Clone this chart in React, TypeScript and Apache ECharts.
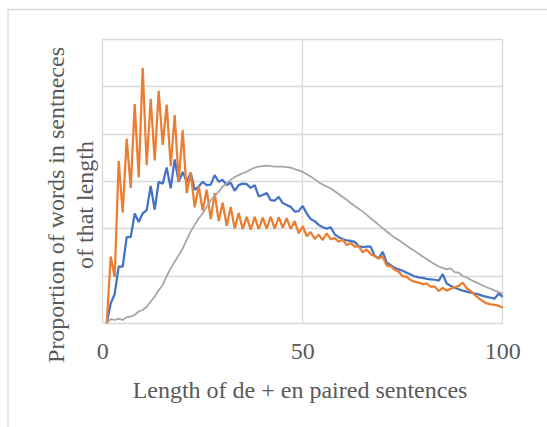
import React, { useEffect, useRef } from "react";
import * as echarts from "echarts";

// Sentence lengths (x positions)
const lengths: number[] = Array.from({ length: 100 }, (_, i) => i + 1);

// Values in grid-interval units (6 horizontal bands)
const blueValues: number[] = [
  0, 0.42, 0.62, 1.2, 1.2, 1.82, 1.82, 2.32, 2.14, 2.32,
  2.39, 2.9, 2.4, 2.99, 2.95, 3.29, 2.85, 3.46, 2.99, 3.2,
  2.99, 3.18, 2.82, 2.89, 2.99, 2.92, 2.93, 3.13, 2.99, 3.03,
  2.92, 2.97, 2.8, 2.92, 2.95, 2.94, 2.86, 2.92, 2.68, 2.71,
  2.75, 2.6, 2.59, 2.67, 2.54, 2.5, 2.46, 2.36, 2.37, 2.48,
  2.32, 2.2, 2.16, 2.08, 2.03, 2.0, 2.03, 1.88, 1.82, 1.78,
  1.75, 1.74, 1.72, 1.63, 1.61, 1.62, 1.62, 1.42, 1.37, 1.51,
  1.28, 1.23, 1.17, 1.14, 1.11, 1.07, 1.03, 0.99, 0.97, 0.96,
  0.94, 0.93, 0.92, 0.9, 1.04, 0.84, 0.79, 0.75, 0.72, 0.69,
  0.67, 0.65, 0.63, 0.61, 0.58, 0.56, 0.54, 0.52, 0.63, 0.56,
];

const orangeValues: number[] = [
  0, 1.41, 0.98, 3.43, 2.34, 3.9, 2.86, 4.63, 3.08, 5.4,
  3.34, 4.74, 3.44, 4.91, 3.77, 4.62, 3.32, 4.4, 3.0, 4.08,
  2.75, 3.18, 2.45, 2.9, 2.38, 2.82, 2.2, 2.75, 2.16, 2.55,
  2.06, 2.46, 2.0, 2.33, 1.99, 2.25, 1.98, 2.25, 1.99, 2.23,
  2.0, 2.25, 2.0, 2.24, 2.02, 2.22, 1.99, 2.16, 1.9, 2.05,
  1.84, 1.93, 1.78, 1.87, 1.76, 1.9, 1.78, 1.8, 1.72, 1.77,
  1.65, 1.7, 1.62, 1.63, 1.5, 1.56, 1.46, 1.42, 1.37, 1.41,
  1.22, 1.21, 1.13, 1.09, 0.99, 0.98, 0.91, 0.88, 0.86, 0.83,
  0.84, 0.77, 0.78, 0.68, 0.75, 0.69, 0.73, 0.76, 0.79, 0.86,
  0.74, 0.68, 0.6, 0.53, 0.47, 0.42, 0.4, 0.39, 0.37, 0.33,
];

const grayValues: number[] = [
  0, 0.09, 0.07, 0.1, 0.07, 0.13, 0.14, 0.18, 0.25, 0.28,
  0.35, 0.46, 0.56, 0.7, 0.81, 1.0, 1.16, 1.3, 1.44, 1.58,
  1.76, 1.94, 2.08, 2.22, 2.32, 2.46, 2.6, 2.69, 2.78, 2.89,
  2.96, 3.03, 3.09, 3.13, 3.17, 3.2, 3.25, 3.29, 3.31, 3.32,
  3.33, 3.32, 3.31, 3.31, 3.31, 3.3, 3.29, 3.26, 3.23, 3.2,
  3.15, 3.1, 3.04, 2.98, 2.93, 2.89, 2.85, 2.79, 2.73, 2.67,
  2.61, 2.54, 2.48, 2.42, 2.36, 2.29, 2.22, 2.15, 2.08, 2.01,
  1.94, 1.87, 1.81, 1.76, 1.7, 1.64, 1.58, 1.53, 1.47, 1.41,
  1.36, 1.3, 1.25, 1.2, 1.17, 1.14, 1.16, 1.08, 1.07, 1.0,
  0.97, 0.92, 0.88, 0.84, 0.8, 0.76, 0.73, 0.69, 0.66, 0.63,
];

const xTitle = "Length of de + en paired sentences";
const yTitleLine1 = "Proportion of words in sentneces";
const yTitleLine2 = "of that length";

const FONT = "Liberation Serif";
const TEXT_COLOR = "#595959";
const GRID_COLOR = "#D9D9D9";

export default function App() {
  const ref = useRef<HTMLDivElement>(null);

  useEffect(() => {
    if (!ref.current) return;
    const chart = echarts.init(ref.current, null, { renderer: "svg" });
    const pair = (vals: number[]) => lengths.map((x, i) => [x, vals[i]]);
    chart.setOption({
      animation: false,
      backgroundColor: "#ffffff",
      grid: { left: 102.7, top: 39.3, width: 400, height: 284, containLabel: false },
      xAxis: {
        type: "value",
        min: 0,
        max: 100,
        interval: 50,
        axisLine: { show: false },
        axisTick: { show: false },
        splitLine: { show: true, lineStyle: { color: GRID_COLOR, width: 1.3 } },
        axisLabel: {
          margin: 16,
          fontFamily: FONT,
          fontSize: 24,
          color: TEXT_COLOR,
        },
      },
      yAxis: {
        type: "value",
        min: 0,
        max: 6,
        interval: 1,
        axisLine: { show: false },
        axisTick: { show: false },
        axisLabel: { show: false },
        splitLine: { show: true, lineStyle: { color: GRID_COLOR, width: 1.3 } },
      },
      series: [
        {
          name: "de+en",
          type: "line",
          data: pair(blueValues),
          showSymbol: false,
          lineStyle: { color: "#4472C4", width: 2.25 },
          itemStyle: { color: "#4472C4" },
        },
        {
          name: "de",
          type: "line",
          data: pair(orangeValues),
          showSymbol: false,
          lineStyle: { color: "#ED7D31", width: 2.25 },
          itemStyle: { color: "#ED7D31" },
        },
        {
          name: "en",
          type: "line",
          data: pair(grayValues),
          showSymbol: false,
          lineStyle: { color: "#A5A5A5", width: 1.75 },
          itemStyle: { color: "#A5A5A5" },
        },
      ],
      graphic: [
        {
          type: "rect",
          shape: { x: 8, y: 9.5, width: 700, height: 600 },
          style: { fill: "none", stroke: GRID_COLOR, lineWidth: 1.3 },
          silent: true,
        },
        {
          type: "text",
          x: 300,
          y: 390,
          style: {
            text: xTitle,
            fontFamily: FONT,
            fontSize: 24,
            fill: TEXT_COLOR,
            align: "center",
            verticalAlign: "middle",
          },
        },
        {
          type: "text",
          x: 56,
          y: 205,
          rotation: Math.PI / 2,
          style: {
            text: yTitleLine1,
            fontFamily: FONT,
            fontSize: 24,
            fill: TEXT_COLOR,
            align: "center",
            verticalAlign: "middle",
          },
        },
        {
          type: "text",
          x: 85,
          y: 205,
          rotation: Math.PI / 2,
          style: {
            text: yTitleLine2,
            fontFamily: FONT,
            fontSize: 24,
            fill: TEXT_COLOR,
            align: "center",
            verticalAlign: "middle",
          },
        },
      ],
    });
    return () => chart.dispose();
  }, []);

  return (
    <div
      ref={ref}
      style={{ position: "absolute", left: 0, top: 0, width: 547, height: 427, background: "#fff" }}
    />
  );
}
